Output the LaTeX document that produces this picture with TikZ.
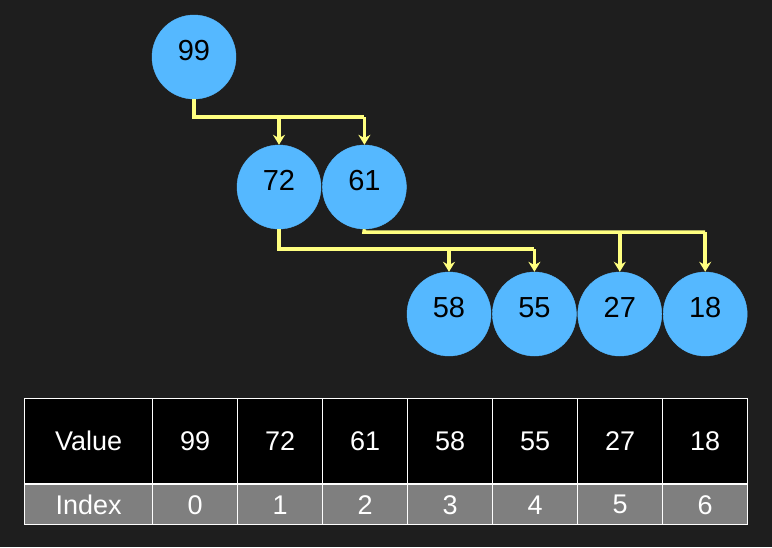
\documentclass[tikz,border=0pt]{standalone}
\usepackage{fontspec}
\setmainfont{Liberation Sans}
\usetikzlibrary{arrows.meta, positioning}
\definecolor{bgdark}{HTML}{1E1E1E}
\definecolor{heapblue}{HTML}{55B8FF}
\definecolor{linkyellow}{HTML}{FFFF80}
\definecolor{idxgray}{HTML}{7F7F7F}
\tikzset{
  heap/.style={circle, fill=heapblue, draw=heapblue, minimum size=84pt, inner sep=0pt, text height=0.72em, text depth=0pt, font=\fontsize{29}{29}\selectfont},
  link/.style={linkyellow, line width=3.5pt},
  linkarrow/.style={link, -{Stealth[length=10pt,width=12pt]}},
  cell/.style={draw=white, line width=1.2pt, text=white, minimum height=85pt, font=\fontsize{27}{27}\selectfont}
}
\begin{document}
\begin{tikzpicture}[x=1pt, y=-1pt, node distance=1pt]
  \fill[bgdark] (0,0) rectangle (772,547);
  \useasboundingbox (0,0) rectangle (772,547);

  % heap nodes
  \node[heap] (n99) at (194,57) {99};
  \node[heap] (n72) at (279,187) {72};
  \node[heap, right=of n72] (n61) {61};
  \node[heap] (n58) at (449,314) {58};
  \node[heap, right=of n58] (n55) {55};
  \node[heap, right=of n55] (n27) {27};
  \node[heap, right=of n27] (n18) {18};

  % links
  \coordinate (a) at (194,117);
  \coordinate (b) at (n72.north |- a);
  \coordinate (c) at (n61.north |- a);
  \draw[link] (n99.south) -- (a) -- (c);
  \draw[linkarrow] (b) -- (n72.north);
  \draw[linkarrow] (c) -- (n61.north);

  \coordinate (d) at (279,249);
  \coordinate (e) at (n58.north |- d);
  \coordinate (f) at (n55.north |- d);
  \draw[link] (n72.south) -- (d) -- (f);
  \draw[linkarrow] (e) -- (n58.north);
  \draw[linkarrow] (f) -- (n55.north);

  \coordinate (g) at (364,232);
  \coordinate (h) at (n27.north |- g);
  \coordinate (k) at (n18.north |- g);
  \draw[link] (n61.south) -- (g) -- (k);
  \draw[linkarrow] (h) -- (n27.north);
  \draw[linkarrow] (k) -- (n18.north);

  % table
  \node[cell, fill=black, minimum width=128pt, anchor=north west] (v0) at (24,398) {Value};
  \node[cell, fill=idxgray, minimum width=128pt, minimum height=40pt, anchor=north] (i0) at (v0.south) {Index};
  \foreach \val [count=\i from 0] in {99,72,61,58,55,27,18} {
    \node[cell, fill=black, minimum width=85pt, anchor=north west] (v\i x) at (152+\i*85,398) {\val};
    \node[cell, fill=idxgray, minimum width=85pt, minimum height=40pt, anchor=north] (i\i x) at (v\i x.south) {\i};
  }
\end{tikzpicture}
\end{document}
